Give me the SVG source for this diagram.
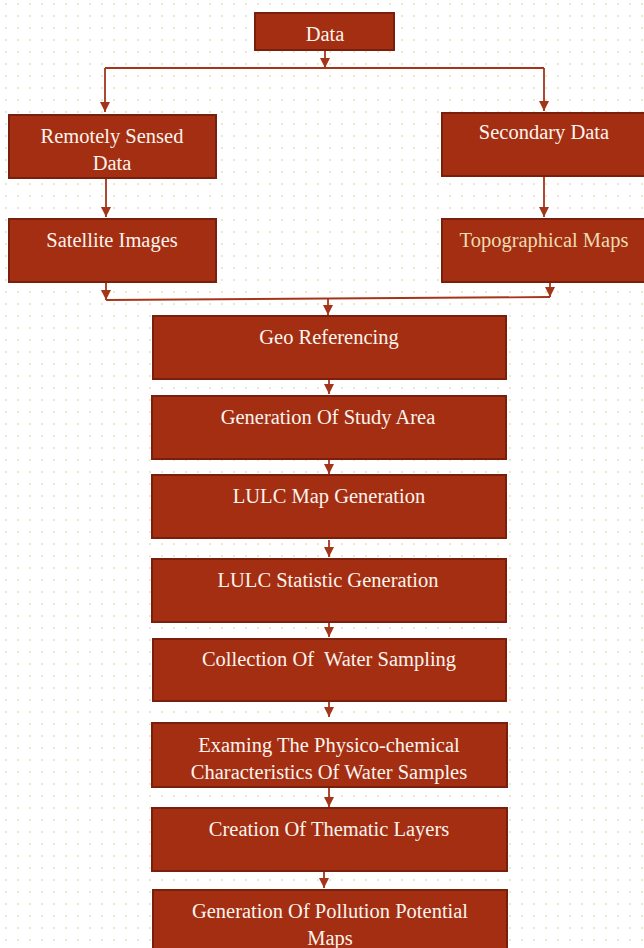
<svg xmlns="http://www.w3.org/2000/svg" width="644" height="948" viewBox="0 0 644 948">
<defs>
<pattern id="dots" x="0" y="0" width="12" height="12" patternUnits="userSpaceOnUse">
<rect x="5" y="3" width="2" height="2" fill="#ebead0"/>
</pattern>
<marker id="ah" viewBox="0 0 10 10" refX="10" refY="5" markerWidth="10" markerHeight="10" markerUnits="userSpaceOnUse" orient="auto">
<path d="M0,0 L10,5 L0,10 z" fill="#a3361a"/>
</marker>
<style>
.box{fill:#a42e11;stroke:#7a1f0c;stroke-width:2}
.t{font-family:"Liberation Serif","Times New Roman",serif;font-size:20.5px;fill:#fbf3ee;text-anchor:middle;white-space:pre}
.tb{fill:#ecdcb2}
.c{fill:none;stroke:#a3361a;stroke-width:1.8}
.ca{fill:none;stroke:#a3361a;stroke-width:1.8;marker-end:url(#ah)}
</style>
</defs>
<rect width="644" height="948" fill="#ffffff"/>
<rect width="644" height="948" fill="url(#dots)"/>
<g id="connectors">
<line class="ca" x1="325" y1="51" x2="325" y2="68"/>
<polyline class="c" points="105,68 544,68"/>
<line class="ca" x1="105" y1="68" x2="105" y2="112"/>
<line class="ca" x1="544" y1="68" x2="544" y2="111"/>
<line class="ca" x1="106" y1="179" x2="106" y2="217"/>
<line class="ca" x1="544" y1="177" x2="544" y2="217"/>
<line class="ca" x1="106" y1="283" x2="106" y2="300"/>
<line class="ca" x1="550" y1="283" x2="550" y2="297"/>
<line class="c" x1="106" y1="300" x2="550" y2="297"/>
<line class="ca" x1="328" y1="299" x2="328" y2="315"/>
<line class="ca" x1="329" y1="380" x2="329" y2="394"/>
<line class="ca" x1="329" y1="460" x2="329" y2="474"/>
<line class="ca" x1="329" y1="540" x2="329" y2="557"/>
<line class="ca" x1="329" y1="623" x2="329" y2="637"/>
<line class="ca" x1="329" y1="702" x2="329" y2="717"/>
<line class="ca" x1="329" y1="780" x2="329" y2="807"/>
<line class="ca" x1="324" y1="860" x2="324" y2="888"/>
</g>
<g id="data"><rect class="box" x="255" y="13" width="139" height="37"/><text class="t" x="325" y="41">Data</text></g>
<g id="remote"><rect class="box" x="9" y="115" width="207" height="63"/><text class="t" x="112" y="143">Remotely Sensed</text><text class="t" x="112" y="170">Data</text></g>
<g id="secondary"><rect class="box" x="442" y="113" width="204" height="63"/><text class="t" x="544" y="139">Secondary Data</text></g>
<g id="satellite"><rect class="box" x="9" y="219" width="207" height="63"/><text class="t" x="112" y="247">Satellite Images</text></g>
<g id="topo"><rect class="box" x="442" y="219" width="204" height="63"/><text class="t tb" x="544" y="247">Topographical Maps</text></g>
<g id="geo"><rect class="box" x="153" y="316" width="353" height="63"/><text class="t" x="329" y="344">Geo Referencing</text></g>
<g id="study"><rect class="box" x="152" y="396" width="354" height="63"/><text class="t" x="328" y="424">Generation Of Study Area</text></g>
<g id="lulcmap"><rect class="box" x="152" y="475" width="354" height="63"/><text class="t" x="329" y="503">LULC Map Generation</text></g>
<g id="lulcstat"><rect class="box" x="152" y="559" width="354" height="63"/><text class="t" x="328" y="587">LULC Statistic Generation</text></g>
<g id="collection"><rect class="box" x="153" y="639" width="353" height="62"/><text class="t" x="329" y="666">Collection Of  Water Sampling</text></g>
<g id="examing"><rect class="box" x="152" y="723" width="355" height="64"/><text class="t" x="329" y="752">Examing The Physico-chemical</text><text class="t" x="329" y="779">Characteristics Of Water Samples</text></g>
<g id="thematic"><rect class="box" x="152" y="808" width="355" height="63"/><text class="t" x="329" y="836">Creation Of Thematic Layers</text></g>
<g id="pollution"><rect class="box" x="153" y="890" width="354" height="70"/><text class="t" x="330" y="918">Generation Of Pollution Potential</text><text class="t" x="330" y="945">Maps</text></g>
</svg>
